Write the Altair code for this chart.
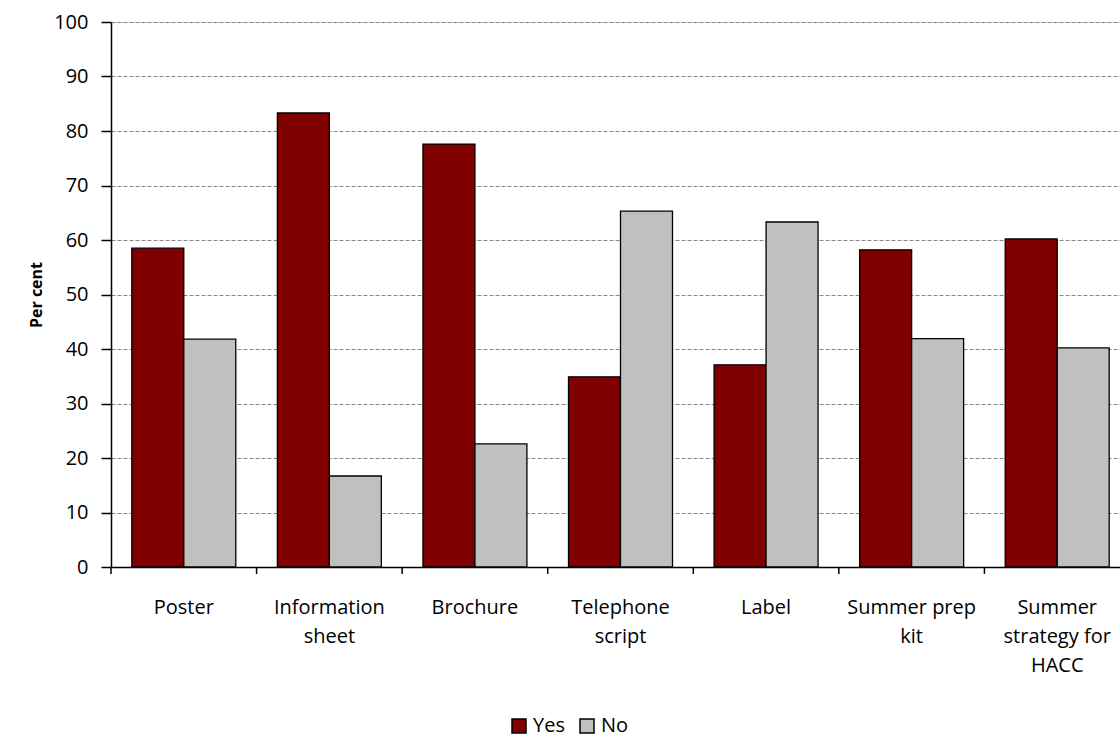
import altair as alt
import pandas as pd

# Survey responses: share of respondents who used each resource
categories = [
    "Poster",
    "Information\nsheet",
    "Brochure",
    "Telephone\nscript",
    "Label",
    "Summer prep\nkit",
    "Summer\nstrategy for\nHACC",
]
yes_values = [58.5, 83.3, 77.6, 34.9, 37.1, 58.2, 60.2]
no_values = [41.8, 16.7, 22.6, 65.3, 63.3, 41.9, 40.2]
responses = ["Yes", "No"]
colors = ["#800000", "#C0C0C0"]

rows = []
for cat, y, n in zip(categories, yes_values, no_values):
    rows.append({"item": cat, "response": "Yes", "pct": y})
    rows.append({"item": cat, "response": "No", "pct": n})
df = pd.DataFrame(rows)

# category boundaries, used for the tick marks between groups
bounds = pd.DataFrame({"b": list(range(len(categories) + 1))})

FONT = "Open Sans"
W, H = 1009, 545
X_RANGE = [0, 1019]

x_scale = alt.Scale(domain=categories, range=X_RANGE, paddingInner=0.2857, paddingOuter=0.1429)

bars = alt.Chart(df).mark_bar(stroke="black", strokeWidth=1.3).encode(
    x=alt.X(
        "item:N",
        sort=categories,
        scale=x_scale,
        axis=alt.Axis(
            title=None,
            labelAngle=0,
            labelExpr="split(datum.label, '\\n')",
            labelFont=FONT,
            labelFontSize=20,
            labelColor="black",
            labelLineHeight=29,
            labelPadding=30,
            labelBaseline="top",
            ticks=False,
            domainColor="black",
            domainWidth=1.5,
            grid=False,
        ),
    ),
    xOffset=alt.XOffset("response:N", sort=responses, scale=alt.Scale(paddingInner=0, paddingOuter=0)),
    y=alt.Y(
        "pct:Q",
        scale=alt.Scale(domain=[0, 100], nice=False),
        axis=alt.Axis(
            title="Per cent",
            titleFont=FONT,
            titleFontSize=16,
            titleFontWeight="bold",
            titleColor="black",
            titlePadding=9,
            values=list(range(0, 101, 10)),
            labelFont=FONT,
            labelFontSize=20,
            labelColor="black",
            labelPadding=13,
            tickSize=10,
            tickColor="black",
            tickWidth=1.5,
            domainColor="black",
            domainWidth=1.5,
            grid=True,
            gridColor="#888888",
            gridDash=[4, 2],
            gridWidth=1,
        ),
    ),
    color=alt.Color(
        "response:N",
        sort=responses,
        scale=alt.Scale(domain=responses, range=colors),
        legend=alt.Legend(
            title=None,
            orient="none",
            legendX=398,
            legendY=694,
            direction="horizontal",
            symbolType="square",
            symbolSize=196,
            symbolStrokeColor="black",
            symbolStrokeWidth=1.5,
            symbolOpacity=1,
            labelFont=FONT,
            labelFontSize=20,
            labelColor="black",
            labelOffset=4,
            columnPadding=12,
        ),
    ),
)

ticks = alt.Chart(bounds).mark_rule(color="black", strokeWidth=1.5).encode(
    x=alt.X("b:Q", scale=alt.Scale(domain=[0, len(categories)], range=X_RANGE, nice=False), axis=None),
    y=alt.value(H),
    y2=alt.value(H + 7),
)

chart = (
    alt.layer(bars, ticks)
    .resolve_scale(x="independent")
    .properties(
        width=W,
        height=H,
        padding={"left": 111, "top": 22, "right": 0, "bottom": 171},
        autosize=alt.AutoSizeParams(type="none"),
    )
    .configure_view(stroke=None)
    .configure(background="white")
)

chart.save("out.html", embed_options={"renderer": "svg", "actions": False})
